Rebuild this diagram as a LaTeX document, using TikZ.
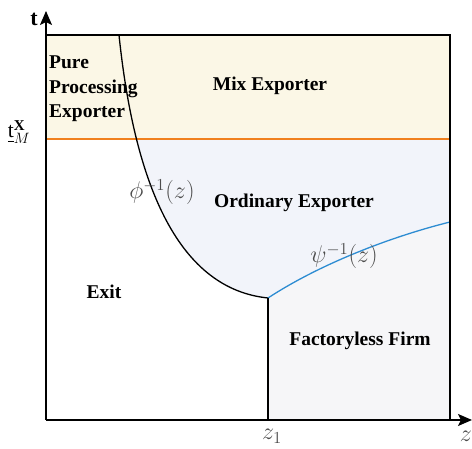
\documentclass[tikz,border=0pt]{standalone}
\usepackage{fontspec}
\setmainfont{Liberation Serif}
\usepackage{amsmath}
\usetikzlibrary{positioning, arrows.meta}
\definecolor{mixfill}{RGB}{251,247,230}
\definecolor{ordfill}{RGB}{242,244,250}
\definecolor{flfill}{RGB}{246,246,248}
\definecolor{cutorange}{RGB}{240,128,30}
\definecolor{cutblue}{RGB}{45,140,210}
\tikzset{
	region/.style={font=\fontsize{19.5}{24.5}\selectfont\bfseries, inner sep=1pt},
	curvelabel/.style={text=black!70, font=\LARGE, scale=1.4, inner sep=1pt},
	axis/.style={black, line width=1.6pt, -{Stealth[length=14pt, width=12pt, inset=3pt]}},
	border/.style={black, line width=1.3pt}
}

\begin{document}
\begin{tikzpicture}[x=1pt, y=1pt]
		\useasboundingbox (0,0) rectangle (472,449);
		% corners of the (z,t) box
		\coordinate (O) at (46,29);
		\coordinate (tend) at (46,438);
		\coordinate (zend) at (472,29);
		\coordinate (topleft) at (46,414);
		\coordinate (topright) at (450,414);
		\coordinate (botright) at (450,29);
		\coordinate (cutleft) at (46,310);
		\coordinate (cutright) at (450,310);
		\coordinate (phitop) at (119,414);
		\coordinate (kink) at (268,151);
		\coordinate (psiend) at (450,227);
		\coordinate (zone) at (268,29);
		\def\phicurve{(phitop) .. controls (135,260) and (180,160) .. (kink)}
		\def\psicurve{(kink) .. controls (320,185) and (390,212) .. (psiend)}
%		
		\fill[ordfill] \phicurve .. controls (320,185) and (390,212) .. (psiend) -- (topright) -- cycle;
		\fill[flfill] (zone) -- (kink) .. controls (320,185) and (390,212) .. (psiend) -- (botright) -- cycle;
		\fill[mixfill] (cutleft) rectangle (topright);
%		
		\draw[cutorange, line width=1.3pt] (cutleft) -- (cutright);
		\draw[border] \phicurve;
		\draw[cutblue, line width=1.3pt] \psicurve;
		\draw[border] (kink) -- (zone);
		\draw[border] (topleft) -- (topright) -- (botright);
		\draw[axis] (O) -- (tend);
		\draw[axis] (O) -- (zend);
%		
		\node[font=\fontsize{22}{24}\selectfont\bfseries, inner sep=1pt] (tlab) at (34,430) {t};
		\node[inner sep=0pt, font=\LARGE, scale=1.25] (tbar) at (19,317) {$\underline{\mathrm{t}}^{\mathbf{X}}_{M}$};
		\node[region, align=left, anchor=north west] (pure) at (48,394) {Pure\\Processing\\Exporter};
		\node[region] (mix) at (270,363) {Mix Exporter};
		\node[region] (ord) at (294,246) {Ordinary Exporter};
		\node[region] (exit) at (104,157) {Exit};
		\node[region] (fless) at (360,108) {Factoryless Firm};
		\node[curvelabel] (philab) at (162,257) {$\phi^{-1}(z)$};
		\node[curvelabel] (psilab) at (344,193) {$\psi^{-1}(z)$};
		\node[curvelabel] (zonelab) at (272,13) {$z_1$};
		\node[curvelabel] (zlab) at (466,13) {$z$};
\end{tikzpicture}
\end{document}
